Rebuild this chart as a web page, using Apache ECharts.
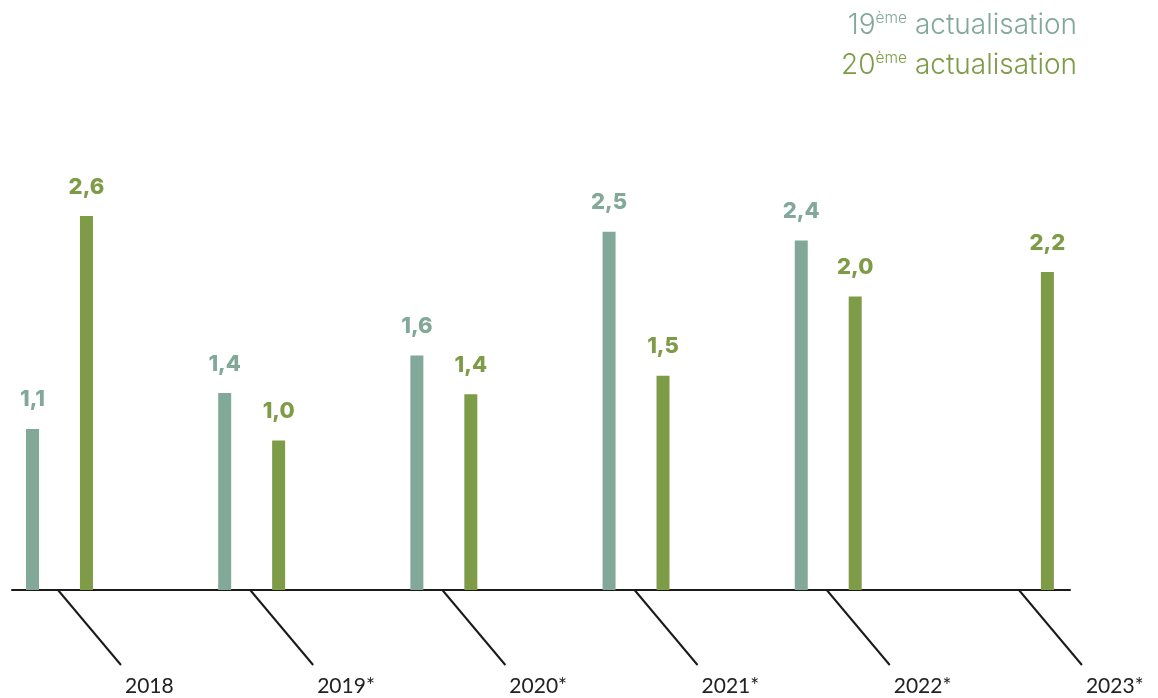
<!DOCTYPE html>
<html>
<head>
<meta charset="utf-8">
<script src="https://cdn.jsdelivr.net/npm/echarts@6/dist/echarts.min.js"></script>
<style>
html,body{margin:0;padding:0;background:#fff;}
#chart{width:1158px;height:698px;}
</style>
</head>
<body>
<div id="chart"></div>
<script>
var categories = ['2018', '2019*', '2020*', '2021*', '2022*', '2023*'];
var seriesNames = ['19ème actualisation', '20ème actualisation'];
var values19 = [1.12, 1.37, 1.63, 2.49, 2.43, null];
var values20 = [2.60, 1.04, 1.36, 1.49, 2.04, 2.21];

var C19 = '#82a89a';
var C20 = '#7e9b48';
var FONT = 'Lato, "Noto Sans", sans-serif';
var LFONT = 'Inter, "Open Sans", sans-serif';

function toPoints(vals) {
  var out = [];
  vals.forEach(function (v, i) { if (v !== null) out.push([i, v]); });
  return out;
}
function fmt(p) { return p.value[1].toFixed(1).replace('.', ','); }

var chart = echarts.init(document.getElementById('chart'));

function legendFor(name, color, top) {
  return {
    data: [name],
    right: 81,
    top: top,
    orient: 'vertical',
    align: 'left',
    icon: 'none',
    itemWidth: 0,
    itemHeight: 0,
    selectedMode: false,
    padding: 0,
    formatter: function (n) { return n.replace('ème', '{s|ème}'); },
    textStyle: {
      color: color,
      fontFamily: LFONT,
      fontWeight: 300,
      fontSize: 28,
      lineHeight: 32,
      rich: {
        s: { color: color, fontFamily: LFONT, fontWeight: 300, fontSize: 15.5, lineHeight: 19, verticalAlign: 'top' }
      }
    }
  };
}

function barLabel(color) {
  return {
    show: true,
    position: 'top',
    distance: 18,
    formatter: fmt,
    color: color,
    fontFamily: LFONT,
    fontWeight: 800,
    fontSize: 22
  };
}

chart.setOption({
  animation: false,
  legend: [legendFor(seriesNames[0], C19, 10), legendFor(seriesNames[1], C20, 50)],
  grid: { left: 12, right: 88, top: 158.45, bottom: 108, containLabel: false },
  xAxis: {
    type: 'value',
    min: -0.247,
    max: 5.258,
    axisLine: { show: true, lineStyle: { color: '#1a1a1a', width: 2 } },
    axisTick: { show: false },
    axisLabel: { show: false },
    splitLine: { show: false }
  },
  yAxis: { type: 'value', min: 0, max: 3, show: false, splitLine: { show: false } },
  series: [
    {
      name: seriesNames[0],
      type: 'bar',
      barWidth: 13,
      barGap: '315%',
      itemStyle: { color: C19 },
      label: barLabel(C19),
      data: toPoints(values19)
    },
    {
      name: seriesNames[1],
      type: 'bar',
      barWidth: 13,
      barGap: '315%',
      itemStyle: { color: C20 },
      label: barLabel(C20),
      data: toPoints(values20)
    },
    {
      name: 'axis',
      type: 'custom',
      clip: false,
      silent: true,
      z: 5,
      data: categories.map(function (c, i) { return [i, 0, c]; }),
      renderItem: function (params, api) {
        var p = api.coord([api.value(0), 0]);
        var x0 = p[0] - 1.5, y0 = p[1];
        var x1 = x0 + 63, y1 = y0 + 75;
        return {
          type: 'group',
          children: [
            { type: 'line', shape: { x1: x0, y1: y0, x2: x1, y2: y1 }, style: { stroke: '#1a1a1a', lineWidth: 2 } },
            { type: 'text', style: { x: x1 + 4, y: y1 + 21, text: categories[params.dataIndex], fill: '#222', font: '400 21px ' + FONT, textAlign: 'left', textVerticalAlign: 'middle' } }
          ]
        };
      }
    }
  ]
});
</script>
</body>
</html>
